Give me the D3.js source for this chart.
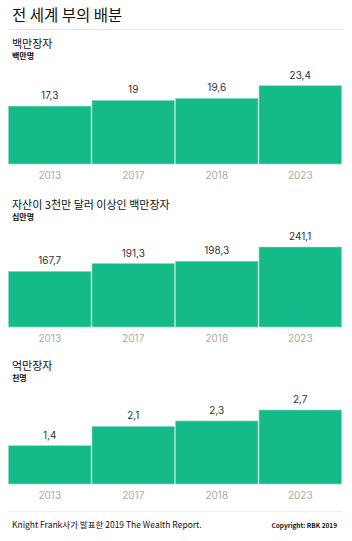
<!DOCTYPE html>
<html>
<head>
<meta charset="utf-8">
<script src="https://d3js.org/d3.v7.min.js"></script>
<style>
  body { margin: 0; background: #fff; font-family: "Noto Sans CJK KR", "Noto Sans", sans-serif; }
</style>
</head>
<body>
<div id="chart"></div>
<script>
const years = ["2013", "2017", "2018", "2023"];
const millionaires = [17.3, 19, 19.6, 23.4];
const ultraRich = [167.7, 191.3, 198.3, 241.1];
const billionaires = [1.4, 2.1, 2.3, 2.7];

const panels = [
  { title: "백만장자", unit: "백만명", values: millionaires, titleY: 48, unitY: 59, base: 164, topPx: 85.7 },
  { title: "자산이 3천만 달러 이상인 백만장자", unit: "십만명", values: ultraRich, titleY: 209, unitY: 220, base: 327, topPx: 247 },
  { title: "억만장자", unit: "천명", values: billionaires, titleY: 370, unitY: 381, base: 484, topPx: 410 }
];

const W = 352, H = 541;
const svg = d3.select("#chart").append("svg").attr("width", W).attr("height", H);

svg.append("text").attr("x", 12).attr("y", 21)
  .attr("font-size", 15.5).attr("fill", "#111").text("전 세계 부의 배분");
svg.append("line").attr("x1", 8).attr("x2", 343).attr("y1", 29.5).attr("y2", 29.5)
  .attr("stroke", "#e6e6e6").attr("stroke-width", 1);

const x = d3.scaleBand().domain(years).range([8, 342]).padding(0);
const fmt = v => String(v).replace(".", ",");

panels.forEach(p => {
  svg.append("text").attr("x", 12).attr("y", p.titleY)
    .attr("font-size", 11).attr("fill", "#111").text(p.title);
  svg.append("text").attr("x", 12).attr("y", p.unitY)
    .attr("font-size", 8).attr("font-weight", "bold").attr("fill", "#111").text(p.unit);

  const y = d3.scaleLinear().domain([0, d3.max(p.values)]).range([p.base, p.topPx]);

  const g = svg.append("g");
  g.selectAll("rect").data(p.values).enter().append("rect")
    .attr("x", (d, i) => x(years[i]) + 0.5)
    .attr("width", x.bandwidth() - 1)
    .attr("y", d => y(d))
    .attr("height", d => p.base - y(d))
    .attr("fill", "#14bb88")
    .attr("stroke", "#8fdcbf").attr("stroke-width", 0.6);

  g.selectAll(".val").data(p.values).enter().append("text")
    .attr("x", (d, i) => x(years[i]) + x.bandwidth() / 2)
    .attr("y", d => y(d) - 7)
    .attr("text-anchor", "middle").attr("font-size", 10)
    .attr("font-family", "Inter, 'Noto Sans', sans-serif")
    .attr("fill", "#333").text(fmt);

  const axis = d3.axisBottom(x).tickSize(0).tickPadding(8);
  const ax = svg.append("g").attr("transform", `translate(0,${p.base})`).call(axis);
  ax.select(".domain").remove();
  ax.selectAll("text").attr("font-size", 10).attr("fill", "#aaa")
    .attr("font-family", "Inter, 'Noto Sans', sans-serif");
});

svg.append("line").attr("x1", 8).attr("x2", 343).attr("y1", 511.5).attr("y2", 511.5)
  .attr("stroke", "#eeeeee").attr("stroke-width", 1);
svg.append("text").attr("x", 12).attr("y", 528)
  .attr("font-size", 8.5).attr("fill", "#111").text("Knight Frank사가 발표한 2019 The Wealth Report.");
svg.append("text").attr("x", 337).attr("y", 528).attr("text-anchor", "end")
  .attr("font-size", 6.5).attr("font-weight", "bold").attr("fill", "#111").text("Copyright: RBK 2019");
</script>
</body>
</html>
